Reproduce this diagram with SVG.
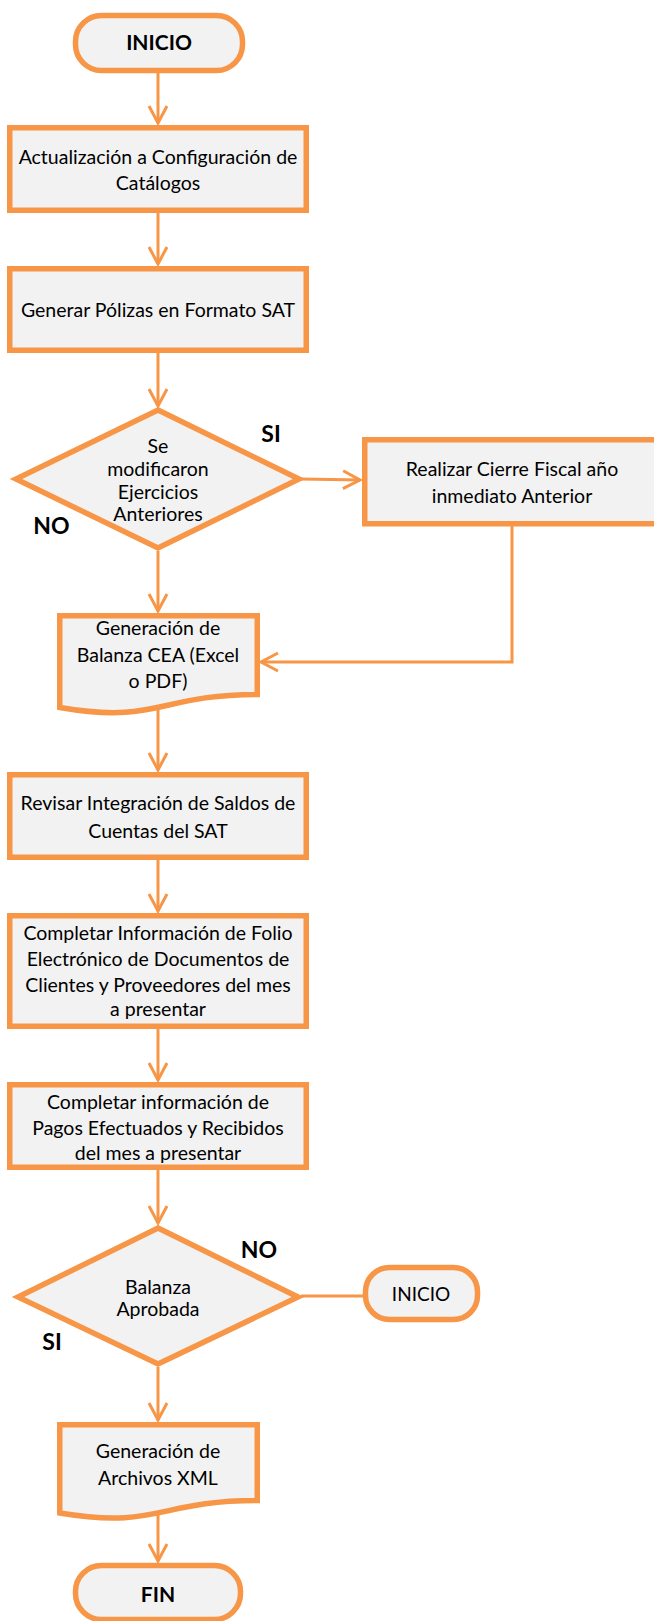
<svg xmlns="http://www.w3.org/2000/svg" width="654" height="1621" viewBox="0 0 654 1621">
<style>
.n{fill:#f2f2f2;stroke:#f79646;stroke-width:5.5;stroke-linejoin:miter}
.c{fill:none;stroke:#f79646;stroke-width:3}
.t{font-family:Lato,"Liberation Sans",sans-serif;font-size:19.5px;fill:#000;text-anchor:middle}
.b{font-family:Lato,"Liberation Sans",sans-serif;font-weight:bold;font-size:21px;fill:#000;text-anchor:middle}
.l{font-family:Lato,"Liberation Sans",sans-serif;font-weight:bold;font-size:23px;fill:#000;text-anchor:middle}
</style>
<defs>
<marker id="ah" markerUnits="userSpaceOnUse" viewBox="-20 -12 22 24" refX="0" refY="0" markerWidth="22" markerHeight="24" orient="auto" overflow="visible">
<path d="M-17,-9 L0,0 L-17,9" fill="none" stroke="#f79646" stroke-width="3"/>
</marker>
</defs>
<rect width="654" height="1621" fill="#ffffff"/>
<g id="connectors">
<path class="c" d="M158,73 V123" marker-end="url(#ah)"/>
<path class="c" d="M158,213 V264" marker-end="url(#ah)"/>
<path class="c" d="M158,353 V406" marker-end="url(#ah)"/>
<path class="c" d="M301,479 L360,480" marker-end="url(#ah)"/>
<path class="c" d="M512,526 V662 H261" marker-end="url(#ah)"/>
<path class="c" d="M158,551 V611" marker-end="url(#ah)"/>
<path class="c" d="M158,707 V770" marker-end="url(#ah)"/>
<path class="c" d="M158,860 V911" marker-end="url(#ah)"/>
<path class="c" d="M158,1029 V1080" marker-end="url(#ah)"/>
<path class="c" d="M158,1170 V1223" marker-end="url(#ah)"/>
<path class="c" d="M301,1296 H364"/>
<path class="c" d="M158,1367 V1420" marker-end="url(#ah)"/>
<path class="c" d="M158,1513 V1561" marker-end="url(#ah)"/>
</g>
<g id="inicio">
<rect class="n" x="75.5" y="15.5" width="167" height="55" rx="26" ry="26"/>
<text class="b" x="159" y="50">INICIO</text>
</g>
<g id="actualizacion">
<rect class="n" x="9.75" y="127.75" width="296.5" height="82.5"/>
<text class="t" x="158" y="164">Actualización a Configuración de</text>
<text class="t" x="158" y="190">Catálogos</text>
</g>
<g id="generar-polizas">
<rect class="n" x="9.75" y="268.75" width="296.5" height="81.5"/>
<text class="t" x="158" y="317">Generar Pólizas en Formato SAT</text>
</g>
<g id="decision-ejercicios">
<polygon class="n" points="158,410 299,479 158,548 16,479"/>
<text class="t" x="158" y="453">Se</text>
<text class="t" x="158" y="476">modificaron</text>
<text class="t" x="158" y="499">Ejercicios</text>
<text class="t" x="158" y="521">Anteriores</text>
<text class="l" x="271" y="442">SI</text>
<text class="l" x="51.5" y="534">NO</text>
</g>
<g id="cierre-fiscal">
<rect class="n" x="364.75" y="439.75" width="300" height="84"/>
<text class="t" x="512" y="476">Realizar Cierre Fiscal año</text>
<text class="t" x="512" y="503">inmediato Anterior</text>
</g>
<g id="balanza-cea">
<path class="n" d="M59.75,615.75 H257.25 V694.5 C158.5,694.5 158.5,724.5 59.75,707.5 Z"/>
<text class="t" x="158" y="635">Generación de</text>
<text class="t" x="158" y="662">Balanza CEA (Excel</text>
<text class="t" x="158" y="688">o PDF)</text>
</g>
<g id="revisar-integracion">
<rect class="n" x="9.75" y="774.75" width="296.5" height="82.5"/>
<text class="t" x="158" y="810">Revisar Integración de Saldos de</text>
<text class="t" x="158" y="838">Cuentas del SAT</text>
</g>
<g id="completar-folio">
<rect class="n" x="9.75" y="915.75" width="296.5" height="110.5"/>
<text class="t" x="158" y="940">Completar Información de Folio</text>
<text class="t" x="158" y="966">Electrónico de Documentos de</text>
<text class="t" x="158" y="992">Clientes y Proveedores del mes</text>
<text class="t" x="158" y="1016">a presentar</text>
</g>
<g id="completar-pagos">
<rect class="n" x="9.75" y="1084.75" width="296.5" height="82.5"/>
<text class="t" x="158" y="1109">Completar información de</text>
<text class="t" x="158" y="1135">Pagos Efectuados y Recibidos</text>
<text class="t" x="158" y="1160">del mes a presentar</text>
</g>
<g id="decision-balanza">
<polygon class="n" points="158,1228 298,1297 158,1364 18,1297"/>
<text class="t" x="158" y="1294">Balanza</text>
<text class="t" x="158" y="1316">Aprobada</text>
<text class="l" x="259" y="1258">NO</text>
<text class="l" x="52" y="1350">SI</text>
</g>
<g id="inicio-2">
<rect class="n" x="365.5" y="1267.5" width="112" height="52" rx="24" ry="24"/>
<text class="t" x="421" y="1301" style="font-size:19px">INICIO</text>
</g>
<g id="archivos-xml">
<path class="n" d="M59.75,1424.75 H257.25 V1500.5 C158.5,1500.5 158.5,1529.3 59.75,1513 Z"/>
<text class="t" x="158" y="1458">Generación de</text>
<text class="t" x="158" y="1485">Archivos XML</text>
</g>
<g id="fin">
<rect class="n" x="75.5" y="1565.5" width="165" height="54" rx="26" ry="26"/>
<text class="b" x="158" y="1602">FIN</text>
</g>
</svg>
